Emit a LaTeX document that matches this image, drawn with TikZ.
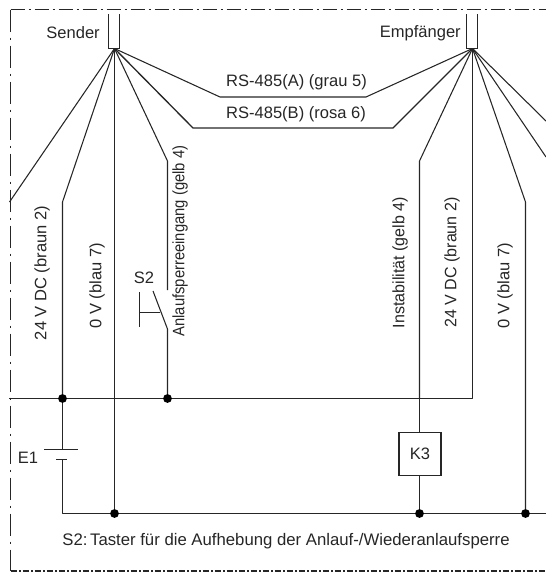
\documentclass[tikz,border=0pt]{standalone}
\usepackage{fontspec}
\usepackage{graphicx}
\setmainfont{Liberation Sans}
\begin{document}
\begin{tikzpicture}[x=0.75pt,y=-0.75pt,
  wire/.style={draw=black!85,line width=0.8pt,line join=round},
  frameline/.style={draw=black!85,line width=0.8pt,line cap=butt},
  lbl/.style={font=\fontsize{12.4pt}{14pt}\selectfont,text=black!85,inner sep=0pt},
  dot/.style={circle,fill=black,draw=none,minimum size=6.6pt,inner sep=0pt},
  conn/.style={draw=black!85,line width=0.8pt,fill=white,minimum width=7.6pt,inner sep=0pt}]
\useasboundingbox (0,0) rectangle (546,572);
\coordinate (cnw) at (10.5,9.5);
\coordinate (csw) at (10.5,571);
\coordinate (ctr) at (546,9.5);
\coordinate (cbr) at (546,571);
\draw[frameline,dash pattern=on 10.5pt off 3pt on 1.5pt off 3pt] (cnw) -- (ctr);
\draw[frameline,dash pattern=on 16.5pt off 4.5pt on 1.5pt off 4.5pt] (cnw) -- (csw);
\draw[frameline,dash pattern=on 5pt off 1.5pt on 1pt off 1.5pt] (csw) -- (cbr);
\coordinate (sp) at (114.5,48.5);
\coordinate (ep) at (472.5,48.5);
\node[conn,minimum height=26.3pt] (sbox) at (114,31) {};
\node[conn,minimum height=26.3pt] (ebox) at (472,31) {};
\draw[draw=white,line width=1.2pt] (sbox.north west) -- (sbox.north east);
\draw[draw=white,line width=1.2pt] (ebox.north west) -- (ebox.north east);
\node[lbl,anchor=east] (snd) at (100,33) {Sender};
\node[lbl,anchor=east] (emp) at (461,33) {Empfänger};
% Sender fan
\draw[wire] (sp) -- (9.5,202);
\draw[wire] (sp) -- (62.5,202) -- (62.5,398.5);
\draw[wire] (sp) -- (114.5,513.5);
\draw[wire] (sp) -- (167.5,161) -- (167.5,290);
\draw[wire,line width=1pt] (sp) -- (193,128) -- (393,128) -- (ep);
\draw[wire] (sp) -- (220,97) -- (366,97) -- (ep);
\node[lbl] (ra) at (296.5,82) {RS-485(A) (grau 5)};
\node[lbl] (rb) at (296,114) {RS-485(B) (rosa 6)};
% Receiver fan
\draw[wire] (ep) -- (419.5,161) -- (419.5,398.5);
\draw[wire] (ep) -- (472.5,398.5) -- (9,398.5);
\draw[wire] (ep) -- (525.5,202) -- (525.5,513.5);
\draw[wire] (ep) -- (546,121);
\draw[wire] (ep) -- (546,157);
% switch
\draw[wire] (167.5,398.5) -- (167.5,329) -- (153,291);
\draw[wire] (160,312.5) -- (139.5,312.5);
\draw[wire] (139.5,292) -- (139.5,327);
\node[lbl] (s2) at (144,278) {S2};
% battery
\draw[wire] (62.5,398.5) -- (62.5,449.5);
\draw[wire] (44,449.5) -- (78,449.5);
\draw[wire] (56,459.5) -- (67,459.5);
\draw[wire] (62.5,459.5) -- (62.5,513.5) -- (546,513.5);
\node[lbl] (e1) at (28,458) {E1};
% K3
\node[draw=black!85,line width=0.8pt,minimum width=31.5pt,minimum height=32pt,inner sep=0pt,font=\fontsize{12.4pt}{14pt}\selectfont,text=black!85] (k3) at (420,454) {\raisebox{-3.75pt}{K3}};
\draw[wire] (419.5,398.5) -- (k3.north -| 419.5,0);
\draw[wire] (k3.south -| 419.5,0) -- (419.5,513.5);
% dots
\node[dot] (d1) at (62.5,398.5) {};
\node[dot] (d2) at (167.5,398.5) {};
\node[dot] (d3) at (114.5,513.5) {};
\node[dot] (d4) at (419.5,513.5) {};
\node[dot] (d5) at (525.5,513.5) {};
% rotated labels
\node[lbl,rotate=90,anchor=center] (l1) at (42,273) {24 V DC (braun 2)};
\node[lbl,rotate=90,anchor=center] (l2) at (97,286) {0 V (blau 7)};
\node[lbl,rotate=90,anchor=center] (l3) at (180,241) {\scalebox{0.895}[1]{Anlaufsperreeingang (gelb 4)}};
\node[lbl,rotate=90,anchor=center] (l4) at (400,262.5) {\scalebox{0.97}[1]{Instabilität (gelb 4)}};
\node[lbl,rotate=90,anchor=center] (l5) at (452,262.5) {\scalebox{0.97}[1]{24 V DC (braun 2)}};
\node[lbl,rotate=90,anchor=center] (l6) at (505,286) {0 V (blau 7)};
\node[lbl,font=\fontsize{12.55pt}{14pt}\selectfont] (note) at (286,541) {S2:\kern-1.5pt\ Taster für die Aufhebung der Anlauf-/Wiederanlaufsperre};
\end{tikzpicture}
\end{document}
